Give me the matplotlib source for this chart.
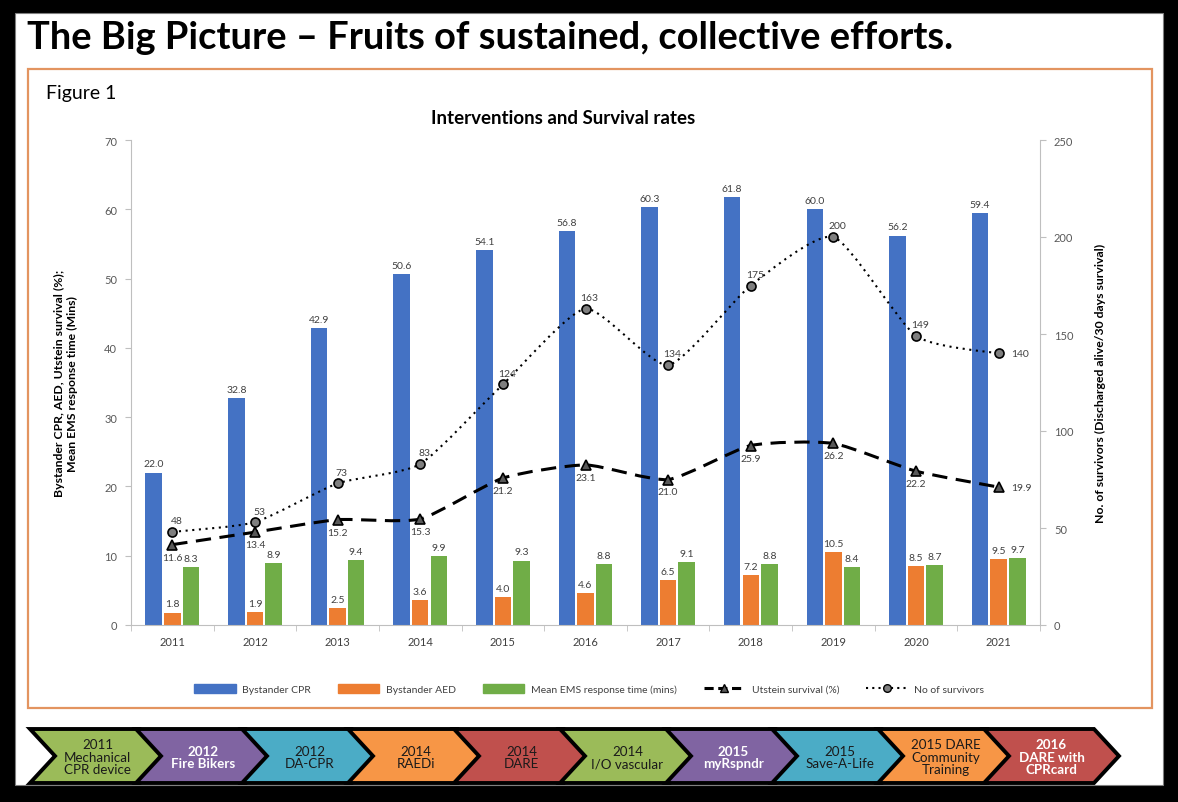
import matplotlib.pyplot as plt
from matplotlib.patches import Rectangle, Polygon, PathPatch, Patch
from matplotlib.lines import Line2D
from matplotlib.path import Path
import numpy as np

## Data ##
years = ['2011', '2012', '2013', '2014', '2015', '2016', '2017', '2018', '2019', '2020', '2021']
bystander_cpr = [22.0, 32.8, 42.9, 50.6, 54.1, 56.8, 60.3, 61.8, 60.0, 56.2, 59.4]
bystander_aed = [1.8, 1.9, 2.5, 3.6, 4.0, 4.6, 6.5, 7.2, 10.5, 8.5, 9.5]
ems_time = [8.3, 8.9, 9.4, 9.9, 9.3, 8.8, 9.1, 8.8, 8.4, 8.7, 9.7]
utstein = [11.6, 13.4, 15.2, 15.3, 21.2, 23.1, 21.0, 25.9, 26.2, 22.2, 19.9]
survivors = [48, 53, 73, 83, 124, 163, 134, 175, 200, 149, 140]

## Timeline of interventions ##
milestones = ['2011\nMechanical\nCPR device', '2012\nFire Bikers', '2012\nDA-CPR', '2014\nRAEDi',
              '2014\nDARE', '2014\nI/O vascular', '2015\nmyRspndr', '2015\nSave-A-Life',
              '2015 DARE\nCommunity\nTraining', '2016\nDARE with\nCPRcard']
milestone_colors = ['#9BBB59', '#8064A2', '#4BACC6', '#F79646', '#C0504D',
                    '#9BBB59', '#8064A2', '#4BACC6', '#F79646', '#C0504D']
milestone_white = [False, True, False, False, False, False, True, False, False, True]

plt.rcParams['font.family'] = ['Lato', 'DejaVu Sans']

W, H = 1178, 803
fig = plt.figure(figsize=(W / 100, H / 100), dpi=100, facecolor='black')

# background / frame layer in pixel coords
bg = fig.add_axes([0, 0, 1, 1], zorder=0)
bg.set_xlim(0, W)
bg.set_ylim(H, 0)
bg.axis('off')
bg.add_patch(Rectangle((15, 14), 1148, 772, facecolor='white', edgecolor='#7f7f7f', lw=0.8))
bg.add_patch(Rectangle((28, 70), 1124, 639, facecolor='white', edgecolor='#E39460', lw=1.6))
bg.text(27, 38, 'The Big Picture \u2013 Fruits of sustained, collective efforts.', fontsize=27.4,
        fontweight='bold', va='center', ha='left', color='black')
bg.text(46, 94, 'Figure 1', fontsize=14, va='center', ha='left', color='black')
bg.text(563, 118, 'Interventions and Survival rates', fontsize=13.5, fontweight='bold',
        va='center', ha='center', color='black')

# chevrons
top, bot = 730, 784
mid = (top + bot) / 2
cw, cd = 110, 25
for i, (lab, col, wht) in enumerate(zip(milestones, milestone_colors, milestone_white)):
    x0 = 30 + 106 * i
    pts = [(x0, top), (x0 + cw, top), (x0 + cw + cd, mid), (x0 + cw, bot), (x0, bot), (x0 + cd, mid)]
    bg.add_patch(Polygon(pts, closed=True, facecolor=col, edgecolor='black', lw=2.8, joinstyle='miter'))
    bg.text(x0 + (cw + cd) / 2, mid + 1, lab, ha='center', va='center', fontsize=9.6,
            linespacing=1.05, color='white' if wht else '#1a1a1a',
            fontweight='bold' if wht else 'normal')

## Main chart ##
ax = fig.add_axes([131 / W, 1 - 626 / H, (1040 - 131) / W, (626 - 141) / H], zorder=1)
ax.set_facecolor('none')
ax2 = ax.twinx()

x = np.arange(len(years))
bw = 0.2
off = 0.225
b1 = ax.bar(x - off, bystander_cpr, bw, color='#4472C4')
b2 = ax.bar(x, bystander_aed, bw, color='#ED7D31')
b3 = ax.bar(x + off, ems_time, bw, color='#70AD47')
for bars in (b1, b2, b3):
    ax.bar_label(bars, fmt='%.1f', padding=3, fontsize=7.5, color='#404040')


def smooth_path(xs, ys, k=10.0):
    # gently smoothed line (cubic bezier through the points)
    p = np.column_stack([np.asarray(xs, float), np.asarray(ys, float)])
    verts = [p[0]]
    codes = [Path.MOVETO]
    n = len(p)
    for i in range(n - 1):
        p0 = p[i - 1] if i > 0 else p[i]
        p3 = p[i + 2] if i + 2 < n else p[i + 1]
        c1 = p[i] + (p[i + 1] - p0) / k
        c2 = p[i + 1] - (p3 - p[i]) / k
        verts += [c1, c2, p[i + 1]]
        codes += [Path.CURVE4] * 3
    return Path(verts, codes)


ax.add_patch(PathPatch(smooth_path(x, utstein), fill=False, edgecolor='black', lw=2.2,
                       linestyle=(0, (5, 2.8)), zorder=3))
ax.plot(x, utstein, ls='none', marker='^', ms=7, mfc='#595959', mec='black', mew=1.2, zorder=4)
ax2.add_patch(PathPatch(smooth_path(x, survivors), fill=False, edgecolor='black', lw=1.5,
                        linestyle=(0, (1, 2.2)), zorder=3))
ax2.plot(x, survivors, ls='none', marker='o', ms=6.5, mfc='#7f7f7f', mec='black', mew=1.2, zorder=4)

for i, v in enumerate(utstein):
    if i == len(utstein) - 1:
        ax.annotate(f'{v:.1f}', (x[i], v), xytext=(9, 0), textcoords='offset points',
                    fontsize=7.5, color='#404040', ha='left', va='center')
    else:
        ax.annotate(f'{v:.1f}', (x[i], v), xytext=(0, -9), textcoords='offset points',
                    fontsize=7.5, color='#404040', ha='center', va='center')
for i, v in enumerate(survivors):
    if i == len(survivors) - 1:
        ax2.annotate(f'{v}', (x[i], v), xytext=(9, 0), textcoords='offset points',
                     fontsize=7.5, color='#404040', ha='left', va='center')
    else:
        ax2.annotate(f'{v}', (x[i], v), xytext=(3, 8), textcoords='offset points',
                     fontsize=7.5, color='#404040', ha='center', va='center')

ax.set_xlim(-0.5, len(years) - 0.5)
ax.set_ylim(0, 70)
ax2.set_ylim(0, 250)
ax.set_yticks(range(0, 71, 10))
ax2.set_yticks(range(0, 251, 50))
ax.set_xticks(x)
ax.set_xticklabels(years)
ax.set_xticks(np.arange(-0.5, len(years), 1), minor=True)
ax.tick_params(axis='x', which='major', length=0, pad=8, labelsize=8, labelcolor='#404040')
ax.tick_params(axis='x', which='minor', length=4, color='#BFBFBF')
ax.tick_params(axis='y', length=4, color='#BFBFBF', labelsize=8, labelcolor='#595959', pad=6)
ax2.tick_params(axis='y', length=4, color='#BFBFBF', labelsize=8, labelcolor='#595959', pad=6)

for a in (ax, ax2):
    a.spines['top'].set_visible(False)
    for s in ('left', 'right', 'bottom'):
        a.spines[s].set_color('#BFBFBF')
ax.spines['right'].set_visible(False)
ax2.spines['left'].set_visible(False)
ax2.spines['bottom'].set_visible(False)

ax.set_ylabel('Bystander CPR, AED, Utstein survival (%);\nMean EMS response time (Mins)',
              fontsize=8.8, fontweight='bold', color='black', linespacing=1.3)
ax.yaxis.set_label_coords(-0.058, 0.5)
ax2.set_ylabel('No. of survivors (Discharged alive/30 days survival)', fontsize=8.8,
               fontweight='bold', color='black', rotation=90)
ax2.yaxis.set_label_coords(1.061, 0.5)

handles = [Patch(color='#4472C4'), Patch(color='#ED7D31'), Patch(color='#70AD47'),
           Line2D([], [], color='black', lw=2.2, ls=(0, (3, 1.5)), marker='^', ms=6,
                  mfc='#595959', mec='black'),
           Line2D([], [], color='black', lw=1.5, ls=(0, (1, 2)), marker='o', ms=5.5,
                  mfc='#7f7f7f', mec='black')]
labels = ['Bystander CPR', 'Bystander AED', 'Mean EMS response time (mins)',
          'Utstein survival (%)', 'No of survivors']
fig.legend(handles, labels, loc='center', bbox_to_anchor=(0.5, 1 - 690 / H), ncol=5,
           frameon=False, fontsize=7.5, handlelength=4, handleheight=0.9, columnspacing=2.6,
           handletextpad=0.6, labelcolor='#404040')

fig.savefig('out.png', dpi=100, facecolor='black')
